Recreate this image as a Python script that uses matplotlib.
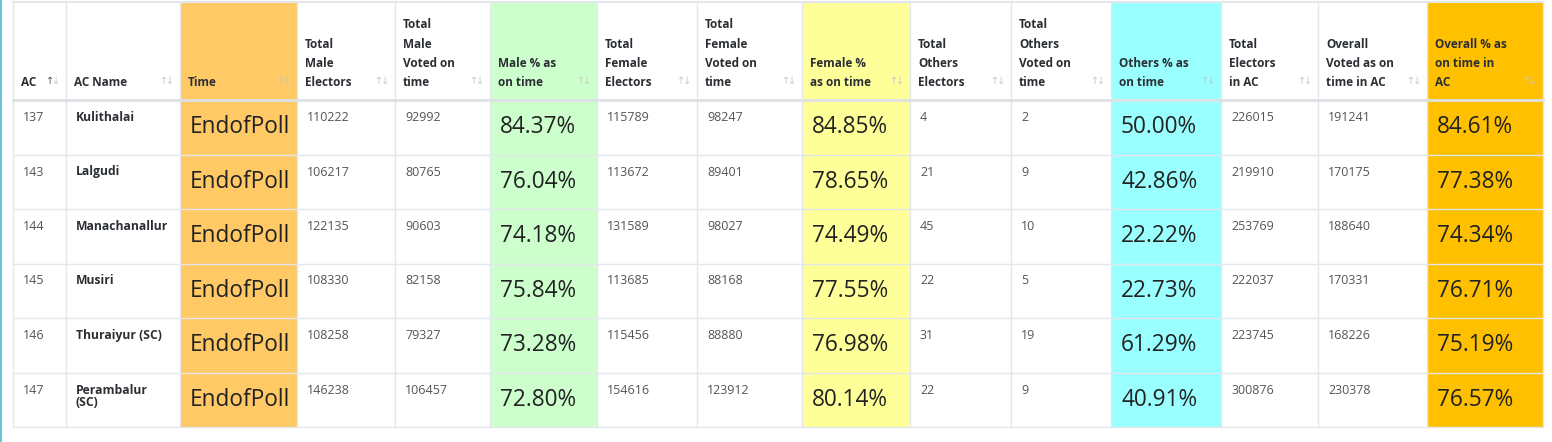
import matplotlib
matplotlib.use("Agg")
import matplotlib.pyplot as plt
from matplotlib.patches import Rectangle

# table data
headers = ["AC", "AC Name", "Time", "Total\nMale\nElectors", "Total\nMale\nVoted on\ntime",
           "Male % as\non time", "Total\nFemale\nElectors", "Total\nFemale\nVoted on\ntime",
           "Female %\nas on time", "Total\nOthers\nElectors", "Total\nOthers\nVoted on\ntime",
           "Others % as\non time", "Total\nElectors\nin AC", "Overall\nVoted as on\ntime in AC",
           "Overall % as\non time in\nAC"]
ac_no = ["137", "143", "144", "145", "146", "147"]
ac_name = ["Kulithalai", "Lalgudi", "Manachanallur", "Musiri", "Thuraiyur (SC)", "Perambalur\n(SC)"]
time = ["EndofPoll"] * 6
male_electors = [110222, 106217, 122135, 108330, 108258, 146238]
male_voted = [92992, 80765, 90603, 82158, 79327, 106457]
male_pct = [84.37, 76.04, 74.18, 75.84, 73.28, 72.80]
female_electors = [115789, 113672, 131589, 113685, 115456, 154616]
female_voted = [98247, 89401, 98027, 88168, 88880, 123912]
female_pct = [84.85, 78.65, 74.49, 77.55, 76.98, 80.14]
others_electors = [4, 21, 45, 22, 31, 22]
others_voted = [2, 9, 10, 5, 19, 9]
others_pct = [50.00, 42.86, 22.22, 22.73, 61.29, 40.91]
total_electors = [226015, 219910, 253769, 222037, 223745, 300876]
overall_voted = [191241, 170175, 188640, 170331, 168226, 230378]
overall_pct = [84.61, 77.38, 74.34, 76.71, 75.19, 76.57]

columns = [ac_no, ac_name, time, male_electors, male_voted,
           [f"{v:.2f}%" for v in male_pct], female_electors, female_voted,
           [f"{v:.2f}%" for v in female_pct], others_electors, others_voted,
           [f"{v:.2f}%" for v in others_pct], total_electors, overall_voted,
           [f"{v:.2f}%" for v in overall_pct]]

# layout (pixels)
col_edges = [13, 66, 180, 297, 395, 490, 597, 697, 802, 910, 1011, 1111, 1221, 1318, 1427, 1543]
header_top, header_bot = 2, 100
row_h = 54.5
fills = {2: "#ffca66", 5: "#ccffcc", 8: "#ffff99", 11: "#99ffff", 14: "#ffc000"}
big_cols = set(fills)
bold_cols = {1}

W, H = 1552, 442
fig = plt.figure(figsize=(W / 100, H / 100), dpi=100)
ax = fig.add_axes([0, 0, 1, 1])
ax.set_xlim(0, W)
ax.set_ylim(H, 0)
ax.axis("off")

font = ["Open Sans", "DejaVu Sans"]
n_rows = len(ac_no)
table_bot = header_bot + n_rows * row_h

# colored columns
for c, col in fills.items():
    ax.add_patch(Rectangle((col_edges[c], header_top), col_edges[c + 1] - col_edges[c],
                           table_bot - header_top, color=col, lw=0, zorder=1))

# grid lines
for x in col_edges:
    ax.plot([x, x], [header_top, table_bot], color="#e3e6ea", lw=1, zorder=2)
ax.plot([col_edges[0], col_edges[-1]], [header_top, header_top], color="#e3e6ea", lw=1.5, zorder=2)
ax.plot([col_edges[0], col_edges[-1]], [header_bot, header_bot], color="#dde1e5", lw=2, zorder=2)
for r in range(1, n_rows + 1):
    y = header_bot + r * row_h
    ax.plot([col_edges[0], col_edges[-1]], [y, y], color="#e3e6ea", lw=1, zorder=2)

# left accent line
ax.add_patch(Rectangle((0, 0), 1.6, H, color="#6cc3d5", lw=0, zorder=3))

# headers
for c, h in enumerate(headers):
    x0, x1 = col_edges[c], col_edges[c + 1]
    ax.text(x0 + 8, header_bot - 11, h, ha="left", va="bottom", fontsize=8.5,
            fontweight="bold", color="#2b2f33", family=font, linespacing=1.62, zorder=4)
    up_col = "#555555" if c == 0 else "#c8c8c8"
    ax.text(x1 - 16, header_bot - 19, "↑", ha="center", va="center", fontsize=7,
            color=up_col, family=["DejaVu Sans"], zorder=4)
    ax.text(x1 - 10, header_bot - 19, "↓", ha="center", va="center", fontsize=7,
            color="#c8c8c8", family=["DejaVu Sans"], zorder=4)

# body
for r in range(n_rows):
    top = header_bot + r * row_h
    for c, col in enumerate(columns):
        val = str(col[r])
        x0 = col_edges[c]
        if c in big_cols:
            ax.text(x0 + 10, top + row_h / 2, val, ha="left", va="center", fontsize=16.3,
                    color="#222222", family=font, zorder=4)
        elif c in bold_cols:
            ax.text(x0 + 10, top + 11, val, ha="left", va="top", fontsize=8.7,
                    fontweight="bold", color="#2b2f33", family=font, linespacing=1.0, zorder=4)
        else:
            ax.text(x0 + 10, top + 11, val, ha="left", va="top", fontsize=9,
                    color="#555555", family=font, zorder=4)

fig.savefig("out.png", dpi=100)
